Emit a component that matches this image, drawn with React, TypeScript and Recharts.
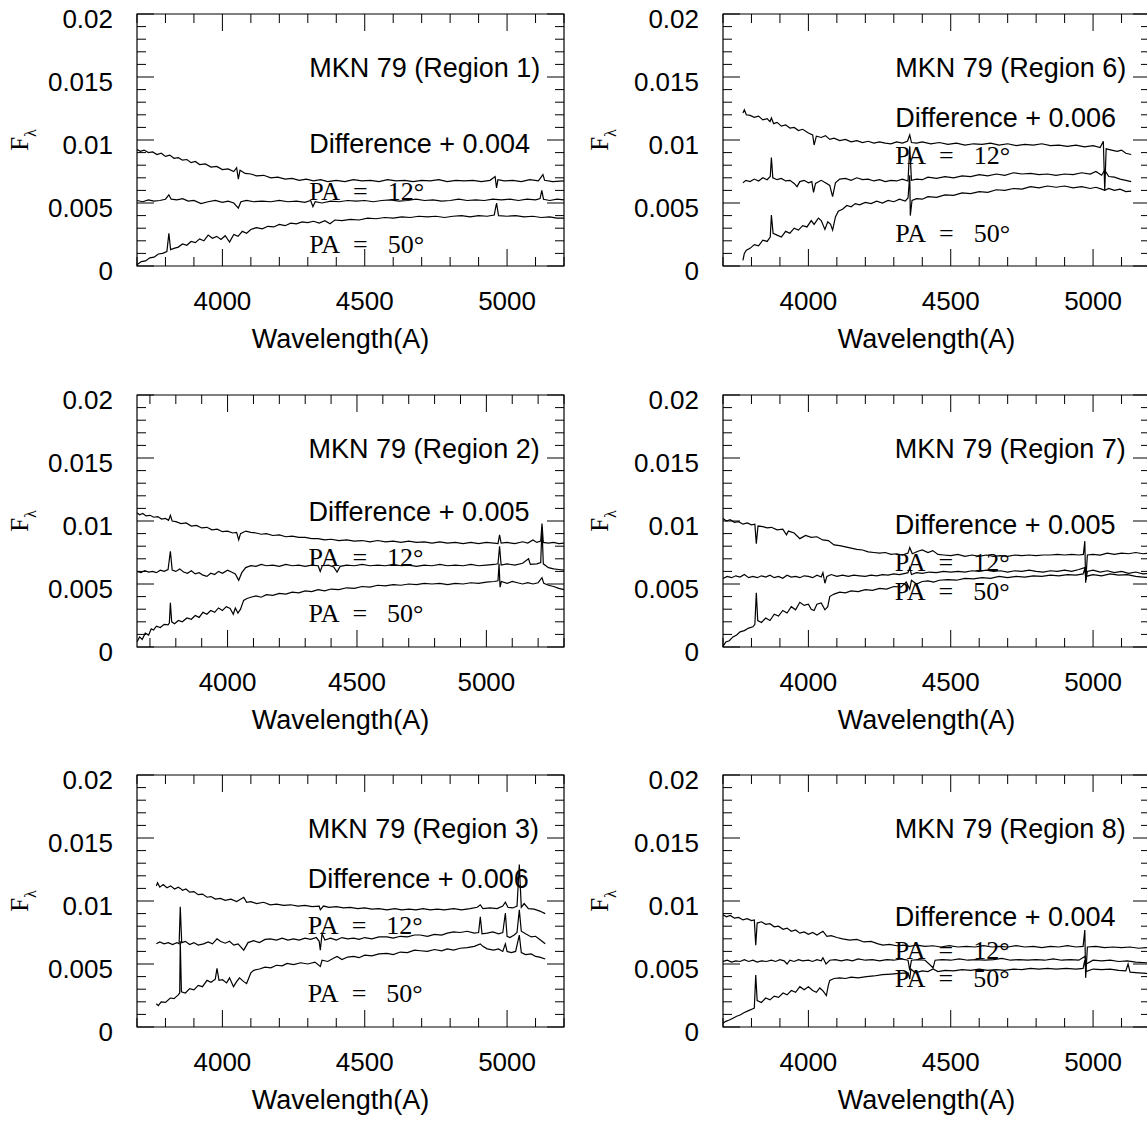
import React from "react";
import { LineChart, Line, XAxis, YAxis, ReferenceArea, ReferenceDot } from "recharts";

// wavelength (A), flux in units of 1e-3
type Pt = [number, number];

const r1Diff: Pt[] = [
  [3700, 9.25], [3712, 9.1], [3725, 9.2], [3740, 9.0], [3755, 9.05], [3770, 8.85], [3785, 8.95], [3800, 8.7],
  [3815, 8.8], [3830, 8.55], [3845, 8.6], [3860, 8.4], [3875, 8.45], [3890, 8.2], [3905, 8.3], [3920, 8.05],
  [3940, 8.1], [3960, 7.85], [3980, 7.9], [4000, 7.65], [4020, 7.7], [4040, 7.5], [4050, 7.8], [4056, 6.9],
  [4062, 7.6], [4080, 7.35], [4100, 7.3], [4120, 7.15], [4145, 7.2], [4170, 7.0], [4195, 7.05], [4220, 6.9],
  [4245, 6.95], [4270, 6.8], [4295, 6.9], [4320, 6.75], [4345, 6.85], [4370, 6.7], [4400, 6.8], [4430, 6.7],
  [4460, 6.85], [4490, 6.75], [4520, 6.8], [4550, 6.7], [4580, 6.85], [4610, 6.75], [4640, 6.8], [4670, 6.7],
  [4700, 6.8], [4730, 6.75], [4760, 6.85], [4790, 6.7], [4820, 6.8], [4850, 6.75], [4880, 6.8], [4910, 6.7],
  [4940, 6.8], [4958, 7.1], [4963, 6.2], [4968, 6.85], [4990, 6.75], [5020, 6.8], [5050, 6.7], [5080, 6.85],
  [5110, 6.75], [5126, 7.25], [5132, 6.8], [5160, 6.7], [5200, 6.75],
];
const r1Pa12: Pt[] = [
  [3700, 5.2], [3720, 5.1], [3740, 5.25], [3760, 5.15], [3780, 5.2], [3800, 5.3], [3812, 5.65], [3820, 5.3],
  [3840, 5.25], [3860, 5.35], [3880, 5.15], [3900, 5.2], [3925, 4.95], [3950, 5.1], [3975, 5.2], [4000, 5.05],
  [4020, 5.15], [4040, 5.0], [4056, 4.6], [4065, 5.1], [4085, 5.2], [4110, 5.1], [4140, 5.15], [4170, 5.1],
  [4200, 5.2], [4230, 5.1], [4260, 5.15], [4290, 5.05], [4310, 5.2], [4318, 4.7], [4326, 5.1], [4350, 5.0],
  [4380, 5.15], [4410, 5.1], [4440, 5.2], [4470, 5.15], [4500, 5.2], [4530, 5.1], [4560, 5.2], [4590, 5.25],
  [4620, 5.15], [4650, 5.2], [4680, 5.3], [4710, 5.2], [4740, 5.25], [4770, 5.15], [4800, 5.2], [4830, 5.3],
  [4860, 5.2], [4890, 5.25], [4920, 5.2], [4950, 5.3], [4980, 5.25], [5010, 5.3], [5040, 5.2], [5070, 5.3],
  [5100, 5.25], [5116, 5.35], [5122, 6.0], [5128, 5.3], [5150, 5.2], [5175, 5.3], [5200, 5.25],
];
const r1Pa50: Pt[] = [
  [3700, 0.1], [3715, 0.35], [3730, 0.4], [3745, 0.65], [3760, 0.7], [3775, 0.95], [3790, 1.0], [3805, 1.15],
  [3812, 2.6], [3818, 1.3], [3830, 1.4], [3845, 1.5], [3860, 1.75], [3875, 1.65], [3890, 1.95], [3905, 1.85],
  [3920, 2.15], [3935, 2.0], [3950, 2.45], [3965, 2.2], [3980, 2.35], [3995, 2.1], [4010, 2.4], [4025, 1.9],
  [4040, 2.5], [4055, 2.35], [4070, 2.75], [4085, 2.6], [4100, 2.9], [4120, 3.05], [4140, 2.95], [4160, 3.15],
  [4180, 3.1], [4200, 3.3], [4220, 3.2], [4240, 3.4], [4260, 3.35], [4280, 3.5], [4300, 3.45], [4320, 3.55],
  [4340, 3.4], [4360, 3.6], [4378, 3.35], [4395, 3.65], [4420, 3.6], [4450, 3.7], [4480, 3.65], [4510, 3.8],
  [4540, 3.75], [4570, 3.85], [4600, 3.8], [4630, 3.9], [4660, 3.85], [4690, 3.95], [4720, 3.9], [4750, 3.95],
  [4780, 3.85], [4810, 3.95], [4840, 4.0], [4870, 3.9], [4900, 4.0], [4930, 3.95], [4955, 4.05], [4963, 5.0],
  [4970, 4.0], [5000, 3.95], [5030, 4.0], [5060, 3.9], [5090, 3.95], [5120, 3.85], [5150, 3.9], [5175, 3.8],
  [5200, 3.8],
];

const r2Diff: Pt[] = [
  [3650, 10.65], [3660, 10.5], [3672, 10.6], [3685, 10.4], [3700, 10.45], [3715, 10.3], [3730, 10.35], [3745, 10.15],
  [3760, 10.2], [3772, 10.05], [3779, 10.45], [3786, 10.0], [3800, 9.95], [3820, 9.8], [3840, 9.85], [3860, 9.6],
  [3880, 9.65], [3900, 9.45], [3920, 9.5], [3940, 9.3], [3960, 9.35], [3980, 9.15], [4000, 9.2], [4020, 9.05],
  [4035, 9.1], [4043, 8.5], [4050, 9.0], [4070, 9.2], [4090, 9.1], [4110, 9.05], [4130, 8.95], [4150, 9.0],
  [4175, 8.85], [4200, 8.9], [4225, 8.75], [4250, 8.8], [4275, 8.7], [4300, 8.7], [4325, 8.6], [4350, 8.6],
  [4375, 8.5], [4400, 8.55], [4430, 8.45], [4460, 8.5], [4490, 8.4], [4520, 8.45], [4550, 8.35], [4580, 8.45],
  [4610, 8.35], [4640, 8.4], [4670, 8.3], [4700, 8.4], [4730, 8.3], [4760, 8.35], [4790, 8.25], [4820, 8.35],
  [4850, 8.25], [4880, 8.3], [4910, 8.2], [4940, 8.3], [4970, 8.2], [5000, 8.3], [5030, 8.25], [5045, 8.2],
  [5051, 8.9], [5057, 8.25], [5080, 8.3], [5110, 8.2], [5140, 8.35], [5160, 8.25], [5180, 8.5], [5195, 8.3],
  [5210, 8.4], [5215, 9.8], [5220, 8.3], [5240, 8.25], [5260, 8.3], [5280, 8.2], [5300, 8.25],
];
const r2Pa12: Pt[] = [
  [3650, 6.0], [3665, 5.9], [3680, 6.05], [3695, 5.95], [3710, 6.0], [3725, 5.9], [3740, 6.1], [3755, 6.0],
  [3770, 6.15], [3779, 7.6], [3786, 6.1], [3800, 6.0], [3815, 6.2], [3830, 5.95], [3845, 5.85], [3860, 6.05],
  [3875, 5.8], [3890, 5.9], [3905, 5.7], [3920, 5.6], [3935, 5.85], [3950, 5.75], [3965, 6.0], [3980, 5.85],
  [4000, 6.1], [4015, 5.95], [4030, 5.8], [4043, 5.3], [4055, 5.9], [4070, 6.3], [4090, 6.45], [4110, 6.4],
  [4130, 6.55], [4150, 6.45], [4175, 6.5], [4200, 6.4], [4225, 6.55], [4250, 6.45], [4275, 6.5], [4300, 6.4],
  [4325, 6.5], [4350, 6.45], [4358, 6.0], [4366, 6.45], [4390, 6.5], [4410, 6.35], [4423, 5.95], [4435, 6.4],
  [4460, 6.5], [4490, 6.45], [4520, 6.55], [4550, 6.45], [4580, 6.5], [4610, 6.45], [4640, 6.55], [4670, 6.45],
  [4700, 6.5], [4730, 6.4], [4760, 6.5], [4790, 6.45], [4820, 6.55], [4850, 6.45], [4880, 6.5], [4910, 6.45],
  [4940, 6.55], [4970, 6.45], [5000, 6.5], [5030, 6.55], [5045, 6.6], [5051, 8.0], [5057, 6.5], [5080, 6.6],
  [5110, 6.5], [5140, 6.65], [5163, 7.0], [5170, 6.55], [5195, 6.6], [5210, 6.7], [5215, 9.5], [5220, 6.6],
  [5240, 6.3], [5260, 6.2], [5280, 6.15], [5300, 6.1],
];
const r2Pa50: Pt[] = [
  [3650, 0.4], [3660, 0.8], [3670, 0.6], [3682, 1.1], [3695, 0.95], [3705, 1.45], [3714, 1.35], [3725, 1.65],
  [3740, 1.55], [3755, 1.8], [3770, 1.75], [3775, 1.9], [3779, 3.5], [3784, 2.0], [3795, 1.85], [3810, 2.1],
  [3825, 2.0], [3843, 2.3], [3860, 2.2], [3875, 2.5], [3890, 2.35], [3905, 2.75], [3920, 2.6], [3935, 2.9],
  [3950, 2.75], [3965, 3.1], [3980, 2.9], [3995, 3.2], [4010, 3.05], [4022, 2.6], [4030, 3.1], [4040, 2.7],
  [4050, 3.0], [4062, 3.7], [4075, 3.85], [4090, 3.95], [4110, 4.05], [4130, 3.95], [4150, 4.15], [4175, 4.1],
  [4200, 4.25], [4225, 4.2], [4250, 4.35], [4275, 4.3], [4300, 4.45], [4325, 4.4], [4350, 4.55], [4375, 4.45],
  [4400, 4.6], [4430, 4.55], [4460, 4.7], [4490, 4.65], [4520, 4.8], [4550, 4.75], [4580, 4.9], [4610, 4.85],
  [4640, 4.95], [4670, 4.9], [4700, 5.0], [4730, 4.95], [4760, 5.05], [4790, 5.0], [4820, 5.05], [4850, 4.95],
  [4880, 5.05], [4910, 5.0], [4940, 5.1], [4970, 5.05], [5000, 5.15], [5030, 5.2], [5045, 5.25], [5049, 6.6],
  [5053, 4.75], [5058, 5.2], [5080, 5.05], [5100, 5.2], [5120, 5.1], [5140, 5.0], [5160, 5.1], [5180, 5.0],
  [5200, 5.1], [5215, 5.5], [5222, 5.05], [5240, 4.9], [5260, 4.8], [5280, 4.65], [5300, 4.55],
];

const r3Diff: Pt[] = [
  [3768, 11.2], [3772, 11.45], [3780, 11.1], [3792, 11.3], [3805, 11.05], [3818, 11.2], [3832, 10.95], [3845, 11.1],
  [3852, 11.0], [3860, 10.85], [3872, 10.95], [3885, 10.7], [3900, 10.75], [3915, 10.5], [3930, 10.55], [3946, 10.3],
  [3960, 10.35], [3975, 10.15], [3993, 10.2], [4010, 10.05], [4030, 10.15], [4050, 9.95], [4075, 10.3], [4085, 9.9],
  [4100, 9.95], [4120, 9.8], [4145, 9.9], [4168, 9.7], [4190, 9.75], [4215, 9.65], [4240, 9.7], [4265, 9.6],
  [4290, 9.65], [4315, 9.55], [4340, 9.6], [4344, 9.3], [4355, 9.6], [4375, 9.5], [4400, 9.55], [4425, 9.45],
  [4450, 9.5], [4475, 9.4], [4500, 9.45], [4525, 9.35], [4550, 9.4], [4578, 9.3], [4605, 9.4], [4630, 9.3],
  [4655, 9.35], [4680, 9.3], [4705, 9.4], [4730, 9.3], [4755, 9.35], [4780, 9.3], [4812, 9.4], [4840, 9.3],
  [4870, 9.4], [4895, 9.5], [4906, 9.7], [4915, 9.4], [4940, 9.45], [4965, 9.4], [4985, 9.6], [4994, 9.9],
  [5003, 9.5], [5020, 9.45], [5035, 9.6], [5043, 12.9], [5050, 9.5], [5060, 9.8], [5075, 9.4], [5095, 9.35],
  [5115, 9.2], [5134, 9.0],
];
const r3Pa12: Pt[] = [
  [3768, 6.6], [3780, 6.75], [3795, 6.6], [3810, 6.7], [3825, 6.55], [3840, 6.7], [3848, 6.6], [3852, 9.55],
  [3857, 6.7], [3870, 6.8], [3885, 6.55], [3900, 6.7], [3915, 6.5], [3934, 6.6], [3950, 6.75], [3965, 6.6],
  [3981, 7.0], [3993, 6.8], [4010, 6.65], [4025, 6.8], [4040, 6.5], [4055, 6.6], [4075, 6.1], [4090, 6.7],
  [4110, 6.85], [4130, 6.7], [4150, 6.95], [4168, 7.0], [4190, 6.9], [4210, 7.05], [4230, 6.9], [4250, 7.0],
  [4270, 6.9], [4290, 7.05], [4310, 6.95], [4330, 7.1], [4340, 6.8], [4344, 6.1], [4350, 7.4], [4360, 6.9],
  [4380, 7.05], [4400, 6.9], [4420, 7.1], [4440, 7.0], [4461, 7.05], [4480, 6.95], [4500, 7.1], [4525, 7.0],
  [4550, 7.15], [4578, 7.15], [4600, 7.05], [4625, 7.2], [4650, 7.15], [4675, 7.3], [4695, 7.3], [4720, 7.2],
  [4745, 7.35], [4770, 7.3], [4790, 7.45], [4812, 7.55], [4835, 7.5], [4860, 7.6], [4885, 7.45], [4900, 7.5],
  [4906, 8.75], [4912, 7.4], [4930, 7.45], [4950, 7.55], [4970, 7.4], [4985, 7.5], [4994, 9.05], [5000, 7.2],
  [5010, 7.1], [5025, 7.3], [5035, 7.5], [5043, 9.3], [5050, 7.6], [5065, 7.4], [5085, 7.15], [5100, 7.2],
  [5115, 6.95], [5134, 6.6],
];
const r3Pa50: Pt[] = [
  [3768, 1.85], [3775, 1.7], [3785, 2.0], [3800, 1.95], [3817, 2.3], [3830, 2.25], [3845, 2.55], [3850, 2.7],
  [3852, 6.8], [3856, 2.8], [3870, 2.7], [3885, 3.05], [3900, 2.95], [3915, 3.3], [3930, 3.2], [3946, 3.7],
  [3960, 3.55], [3975, 3.8], [3981, 4.65], [3988, 3.7], [4000, 3.75], [4015, 3.5], [4025, 3.9], [4039, 3.2],
  [4050, 3.6], [4060, 3.9], [4075, 3.6], [4085, 3.45], [4100, 4.3], [4110, 4.5], [4130, 4.6], [4150, 4.75],
  [4170, 4.7], [4190, 4.9], [4210, 4.85], [4227, 5.05], [4250, 4.95], [4275, 5.1], [4300, 5.0], [4325, 5.15],
  [4344, 4.8], [4350, 5.3], [4370, 5.2], [4390, 5.45], [4403, 5.6], [4420, 5.35], [4440, 5.55], [4461, 5.6],
  [4480, 5.5], [4500, 5.7], [4525, 5.65], [4550, 5.8], [4578, 5.85], [4600, 5.75], [4625, 5.95], [4650, 5.9],
  [4675, 6.1], [4695, 6.05], [4720, 6.0], [4745, 6.15], [4770, 6.05], [4790, 6.2], [4812, 6.1], [4835, 6.25],
  [4860, 6.3], [4885, 6.4], [4906, 6.6], [4915, 6.4], [4930, 6.2], [4953, 6.1], [4970, 6.2], [4985, 6.0],
  [4994, 6.6], [5000, 6.0], [5015, 5.9], [5030, 6.0], [5043, 7.3], [5050, 5.9], [5065, 5.75], [5085, 5.8],
  [5100, 5.6], [5115, 5.55], [5134, 5.4],
];

const r6Diff: Pt[] = [
  [3770, 12.15], [3775, 12.4], [3782, 12.0], [3795, 11.95], [3810, 11.8], [3825, 11.9], [3840, 11.6], [3855, 11.7],
  [3865, 11.45], [3870, 11.75], [3878, 11.3], [3890, 11.4], [3905, 11.1], [3920, 11.2], [3935, 10.95], [3950, 11.0],
  [3965, 10.75], [3980, 10.85], [4000, 10.55], [4015, 10.4], [4020, 9.6], [4028, 10.3], [4045, 10.2], [4060, 10.35],
  [4075, 10.05], [4090, 10.15], [4110, 9.95], [4130, 10.05], [4150, 9.85], [4170, 9.95], [4190, 9.8], [4210, 9.9],
  [4230, 9.75], [4250, 9.85], [4270, 9.75], [4290, 9.7], [4310, 9.85], [4330, 9.75], [4348, 9.9], [4356, 10.4],
  [4362, 9.8], [4380, 9.75], [4400, 9.85], [4430, 9.7], [4460, 9.8], [4490, 9.65], [4520, 9.75], [4550, 9.6],
  [4580, 9.7], [4610, 9.65], [4640, 9.75], [4670, 9.6], [4700, 9.7], [4730, 9.55], [4760, 9.65], [4790, 9.6],
  [4820, 9.7], [4850, 9.55], [4880, 9.6], [4910, 9.5], [4940, 9.6], [4970, 9.45], [5000, 9.55], [5025, 9.4],
  [5036, 9.9], [5041, 6.0], [5046, 9.3], [5065, 9.2], [5085, 9.1], [5100, 9.2], [5115, 8.95], [5134, 8.85],
];
const r6Pa12: Pt[] = [
  [3770, 6.6], [3780, 6.8], [3795, 6.7], [3810, 6.9], [3825, 6.75], [3840, 7.0], [3855, 6.85], [3866, 7.1],
  [3870, 8.6], [3875, 7.0], [3890, 6.85], [3905, 6.95], [3920, 6.75], [3935, 6.8], [3950, 6.55], [3960, 6.3],
  [3970, 6.7], [3985, 6.8], [4000, 6.6], [4012, 6.7], [4018, 5.85], [4025, 6.55], [4045, 6.8], [4060, 6.6],
  [4075, 6.4], [4085, 5.5], [4095, 6.6], [4110, 6.9], [4130, 6.95], [4150, 6.8], [4170, 7.0], [4190, 6.85],
  [4210, 6.9], [4230, 6.75], [4250, 6.85], [4270, 6.7], [4290, 6.8], [4310, 6.75], [4330, 6.9], [4350, 6.75],
  [4356, 9.5], [4362, 6.8], [4380, 6.9], [4400, 6.85], [4420, 7.05], [4450, 6.95], [4480, 7.1], [4510, 7.0],
  [4540, 7.15], [4570, 7.1], [4600, 7.25], [4630, 7.15], [4660, 7.3], [4690, 7.2], [4720, 7.4], [4750, 7.3],
  [4780, 7.35], [4810, 7.25], [4840, 7.3], [4870, 7.2], [4900, 7.3], [4930, 7.25], [4960, 7.4], [4990, 7.3],
  [5010, 7.5], [5030, 7.2], [5041, 7.6], [5055, 7.1], [5075, 7.05], [5095, 6.9], [5115, 6.8], [5134, 6.7],
];
const r6Pa50: Pt[] = [
  [3770, 0.45], [3775, 1.0], [3782, 1.25], [3795, 1.4], [3810, 1.7], [3825, 1.6], [3840, 2.05], [3855, 1.95],
  [3866, 2.3], [3870, 4.05], [3876, 2.6], [3890, 2.45], [3905, 2.3], [3920, 2.75], [3935, 2.6], [3950, 3.0],
  [3965, 2.85], [3980, 3.2], [3995, 3.1], [4010, 3.6], [4020, 3.3], [4035, 3.8], [4045, 3.6], [4058, 2.9],
  [4068, 3.5], [4078, 3.3], [4085, 2.85], [4095, 3.9], [4105, 4.35], [4120, 4.5], [4135, 4.8], [4150, 4.7],
  [4165, 4.95], [4180, 4.85], [4200, 5.05], [4220, 4.95], [4240, 5.15], [4260, 5.0], [4280, 5.2], [4300, 5.1],
  [4320, 5.3], [4340, 5.15], [4350, 5.4], [4356, 7.2], [4358, 4.0], [4364, 5.2], [4380, 5.35], [4400, 5.3],
  [4420, 5.5], [4450, 5.45], [4480, 5.65], [4510, 5.6], [4540, 5.8], [4570, 5.75], [4600, 5.9], [4630, 5.85],
  [4660, 6.05], [4690, 6.0], [4720, 6.15], [4750, 6.1], [4780, 6.3], [4810, 6.2], [4840, 6.35], [4870, 6.25],
  [4900, 6.35], [4930, 6.2], [4960, 6.3], [4990, 6.15], [5010, 6.25], [5030, 6.1], [5041, 6.0], [5055, 6.15],
  [5075, 6.0], [5095, 6.1], [5115, 5.9], [5134, 5.95],
];

const r7Diff: Pt[] = [
  [3700, 10.2], [3712, 10.0], [3725, 10.1], [3740, 9.9], [3755, 9.95], [3770, 9.75], [3785, 9.85], [3800, 9.7],
  [3812, 9.75], [3817, 8.2], [3823, 9.6], [3840, 9.55], [3855, 9.45], [3870, 9.5], [3890, 9.3], [3910, 9.35],
  [3923, 8.9], [3930, 9.2], [3950, 9.05], [3970, 8.6], [3990, 8.85], [4010, 8.7], [4030, 8.75], [4050, 8.5],
  [4070, 8.45], [4090, 8.1], [4110, 8.05], [4130, 7.95], [4150, 7.85], [4170, 7.75], [4190, 7.7], [4210, 7.55],
  [4230, 7.5], [4250, 7.45], [4270, 7.5], [4290, 7.35], [4310, 7.4], [4330, 7.3], [4350, 7.45], [4356, 7.9],
  [4365, 7.4], [4385, 7.6], [4400, 7.7], [4420, 7.5], [4437, 7.65], [4455, 7.35], [4475, 7.3], [4500, 7.25],
  [4525, 7.35], [4550, 7.2], [4575, 7.3], [4600, 7.2], [4625, 7.3], [4650, 7.2], [4675, 7.25], [4700, 7.2],
  [4725, 7.3], [4750, 7.25], [4775, 7.3], [4800, 7.25], [4825, 7.3], [4850, 7.3], [4875, 7.35], [4900, 7.3],
  [4925, 7.35], [4950, 7.3], [4966, 7.35], [4971, 8.4], [4974, 5.1], [4980, 7.3], [5000, 7.35], [5025, 7.3],
  [5050, 7.45], [5075, 7.35], [5100, 7.45], [5125, 7.4], [5150, 7.5], [5175, 7.4], [5200, 7.45],
];
const r7Pa12: Pt[] = [
  [3700, 5.45], [3715, 5.6], [3730, 5.5], [3745, 5.65], [3760, 5.55], [3775, 5.75], [3790, 5.5], [3805, 5.6],
  [3820, 5.5], [3835, 5.65], [3850, 5.55], [3865, 5.7], [3880, 5.5], [3895, 5.6], [3910, 5.45], [3925, 5.7],
  [3940, 5.55], [3955, 5.6], [3970, 5.5], [3985, 5.65], [4000, 5.6], [4015, 5.5], [4030, 5.7], [4045, 5.55],
  [4051, 5.9], [4058, 5.06], [4065, 5.6], [4080, 5.75], [4100, 5.6], [4120, 5.7], [4140, 5.6], [4160, 5.7],
  [4180, 5.65], [4200, 5.6], [4220, 5.7], [4240, 5.65], [4260, 5.75], [4280, 5.7], [4300, 5.8], [4320, 5.75],
  [4340, 5.85], [4350, 5.9], [4356, 6.3], [4362, 5.75], [4380, 5.9], [4400, 5.85], [4425, 5.95], [4450, 5.9],
  [4475, 6.0], [4500, 5.95], [4525, 6.0], [4550, 5.95], [4575, 6.05], [4600, 6.0], [4625, 6.1], [4650, 6.0],
  [4675, 6.05], [4700, 5.95], [4725, 6.05], [4750, 6.0], [4775, 6.1], [4800, 6.0], [4825, 5.95], [4850, 6.05],
  [4875, 6.0], [4900, 6.1], [4925, 6.0], [4950, 6.15], [4971, 6.3], [4975, 5.3], [4980, 6.0], [5000, 6.1],
  [5025, 5.95], [5050, 6.05], [5075, 5.9], [5100, 6.0], [5125, 5.85], [5150, 5.95], [5175, 5.8], [5200, 5.85],
];
const r7Pa50: Pt[] = [
  [3700, 0.05], [3710, 0.4], [3722, 0.5], [3735, 0.8], [3748, 0.95], [3760, 1.2], [3775, 1.3], [3790, 1.5],
  [3805, 1.6], [3812, 1.8], [3817, 4.3], [3822, 2.1], [3835, 1.95], [3850, 2.3], [3865, 2.1], [3880, 2.6],
  [3895, 2.45], [3910, 2.9], [3925, 2.7], [3940, 3.2], [3955, 2.95], [3970, 3.55], [3985, 3.3], [4000, 3.4],
  [4010, 3.0], [4020, 2.9], [4030, 3.4], [4045, 3.5], [4058, 2.95], [4068, 3.2], [4075, 4.0], [4090, 4.2],
  [4110, 4.35], [4130, 4.3], [4150, 4.45], [4175, 4.4], [4200, 4.55], [4225, 4.5], [4250, 4.65], [4275, 4.6],
  [4300, 4.8], [4325, 4.75], [4344, 5.15], [4356, 4.6], [4362, 5.3], [4380, 5.0], [4400, 5.2], [4420, 5.25],
  [4440, 5.15], [4460, 5.3], [4490, 5.35], [4520, 5.3], [4550, 5.45], [4580, 5.4], [4610, 5.5], [4640, 5.45],
  [4670, 5.6], [4700, 5.5], [4730, 5.6], [4760, 5.55], [4790, 5.65], [4820, 5.6], [4850, 5.7], [4880, 5.65],
  [4910, 5.75], [4940, 5.7], [4965, 5.8], [4971, 6.2], [4975, 5.6], [5000, 5.75], [5030, 5.65], [5060, 5.8],
  [5090, 5.7], [5120, 5.75], [5150, 5.6], [5175, 5.55], [5200, 5.5],
];

const r8Diff: Pt[] = [
  [3700, 8.9], [3712, 8.75], [3725, 8.85], [3740, 8.65], [3755, 8.7], [3770, 8.5], [3785, 8.6], [3800, 8.45],
  [3810, 8.5], [3815, 6.5], [3820, 8.25], [3835, 8.35], [3850, 8.15], [3865, 8.2], [3880, 7.95], [3895, 8.0],
  [3911, 7.75], [3925, 7.85], [3940, 7.6], [3955, 7.7], [3970, 7.45], [3985, 7.55], [4000, 7.35], [4015, 7.5],
  [4030, 7.3], [4051, 7.6], [4065, 7.2], [4080, 7.25], [4100, 7.1], [4120, 7.0], [4145, 6.9], [4170, 6.95],
  [4195, 6.75], [4220, 6.8], [4245, 6.6], [4262, 6.5], [4285, 6.55], [4310, 6.45], [4335, 6.5], [4356, 6.4],
  [4380, 6.5], [4410, 6.4], [4438, 6.45], [4465, 6.35], [4495, 6.45], [4525, 6.35], [4555, 6.4], [4585, 6.35],
  [4615, 6.45], [4645, 6.35], [4672, 6.4], [4700, 6.35], [4730, 6.45], [4760, 6.35], [4790, 6.4], [4820, 6.3],
  [4850, 6.4], [4880, 6.35], [4910, 6.45], [4940, 6.35], [4965, 6.4], [4971, 7.7], [4974, 3.9], [4980, 6.35],
  [5010, 6.4], [5040, 6.3], [5070, 6.35], [5100, 6.3], [5130, 6.35], [5160, 6.25], [5187, 6.3], [5200, 6.25],
];
const r8Pa12: Pt[] = [
  [3700, 5.2], [3715, 5.3], [3730, 5.15], [3745, 5.25], [3760, 5.2], [3775, 5.35], [3790, 5.2], [3805, 5.3],
  [3820, 5.15], [3835, 5.25], [3852, 5.2], [3870, 5.3], [3885, 5.2], [3900, 5.35], [3915, 5.25], [3925, 5.0],
  [3935, 5.3], [3950, 5.2], [3965, 5.35], [3980, 5.25], [4000, 5.3], [4015, 5.2], [4030, 5.35], [4045, 5.25],
  [4051, 5.5], [4062, 5.0], [4075, 5.3], [4095, 5.35], [4115, 5.25], [4135, 5.35], [4155, 5.25], [4175, 5.4],
  [4200, 5.3], [4225, 5.35], [4250, 5.25], [4275, 5.35], [4300, 5.3], [4325, 5.4], [4350, 5.3], [4356, 4.5],
  [4362, 5.3], [4385, 5.35], [4410, 5.3], [4438, 4.7], [4445, 5.3], [4470, 5.35], [4500, 5.3], [4530, 5.4],
  [4560, 5.3], [4590, 5.35], [4620, 5.3], [4650, 5.35], [4680, 5.45], [4710, 5.3], [4740, 5.35], [4770, 5.3],
  [4800, 5.35], [4830, 5.3], [4860, 5.4], [4890, 5.3], [4920, 5.35], [4950, 5.3], [4971, 5.6], [4976, 5.0],
  [5000, 5.3], [5030, 5.25], [5060, 5.3], [5090, 5.2], [5120, 5.25], [5150, 5.15], [5187, 5.1], [5200, 5.05],
];
const r8Pa50: Pt[] = [
  [3700, 0.3], [3710, 0.45], [3722, 0.55], [3735, 0.7], [3748, 0.85], [3760, 0.95], [3775, 1.15], [3790, 1.3],
  [3805, 1.45], [3810, 1.5], [3815, 4.13], [3820, 2.1], [3835, 1.95], [3850, 2.3], [3865, 2.15], [3880, 2.45],
  [3895, 2.35], [3911, 2.7], [3925, 2.55], [3940, 2.9], [3955, 2.75], [3970, 3.2], [3985, 2.95], [4000, 3.2],
  [4015, 2.9], [4028, 2.75], [4040, 3.1], [4052, 2.85], [4063, 2.5], [4070, 3.3], [4075, 3.7], [4090, 3.85],
  [4110, 3.9], [4130, 3.85], [4150, 3.95], [4175, 3.9], [4204, 4.0], [4230, 4.05], [4260, 4.15], [4290, 4.2],
  [4320, 4.25], [4350, 4.3], [4356, 3.8], [4360, 4.6], [4375, 4.3], [4400, 4.45], [4420, 4.4], [4438, 4.6],
  [4455, 4.4], [4480, 4.5], [4510, 4.45], [4540, 4.55], [4570, 4.5], [4600, 4.6], [4630, 4.5], [4660, 4.55],
  [4690, 4.5], [4720, 4.6], [4750, 4.55], [4780, 4.65], [4810, 4.6], [4840, 4.65], [4870, 4.6], [4906, 4.66],
  [4940, 4.6], [4965, 4.65], [4971, 5.3], [4975, 4.4], [5000, 4.6], [5030, 4.55], [5060, 4.6], [5090, 4.5],
  [5115, 4.45], [5123, 5.0], [5130, 4.35], [5160, 4.3], [5187, 4.25], [5200, 4.2],
];

// axis ticks
const fluxTicks = [0, 1, 2, 3, 4, 5, 6, 7, 8, 9, 10, 11, 12, 13, 14, 15, 16, 17, 18, 19, 20];
const waveTicksA = [3700, 3800, 3900, 4000, 4100, 4200, 4300, 4400, 4500, 4600, 4700, 4800, 4900, 5000, 5100, 5200];
const waveTicksB = [3700, 3800, 3900, 4000, 4100, 4200, 4300, 4400, 4500, 4600, 4700, 4800, 4900, 5000, 5100, 5200, 5300];

const PLOT_W = 427;
const PLOT_H = 252;
const CHART_W = 586;
const CHART_H = 380;
const ROW_TOP = [0, 381, 761];

const sans = '"Liberation Sans", Arial, Helvetica, sans-serif';
const serif = '"Liberation Serif", "Times New Roman", Times, serif';

const panels = [
  { region: 1, diffOffset: "0.004", col: 0, row: 0, domain: [3700, 5200], ticks: waveTicksA, textX: 4305,
    diff: r1Diff, pa12: r1Pa12, pa50: r1Pa50, diffY: 9, pa12Y: 5.2, pa50Y: 1 },
  { region: 2, diffOffset: "0.005", col: 0, row: 1, domain: [3650, 5300], ticks: waveTicksB, textX: 4313,
    diff: r2Diff, pa12: r2Pa12, pa50: r2Pa50, diffY: 10, pa12Y: 6.4, pa50Y: 2 },
  { region: 3, diffOffset: "0.006", col: 0, row: 2, domain: [3700, 5200], ticks: waveTicksA, textX: 4300,
    diff: r3Diff, pa12: r3Pa12, pa50: r3Pa50, diffY: 11, pa12Y: 7.4, pa50Y: 2 },
  { region: 6, diffOffset: "0.006", col: 1, row: 0, domain: [3700, 5200], ticks: waveTicksA, textX: 4305,
    diff: r6Diff, pa12: r6Pa12, pa50: r6Pa50, diffY: 11, pa12Y: 8.1, pa50Y: 1.9 },
  { region: 7, diffOffset: "0.005", col: 1, row: 1, domain: [3700, 5200], ticks: waveTicksA, textX: 4303,
    diff: r7Diff, pa12: r7Pa12, pa50: r7Pa50, diffY: 9, pa12Y: 6, pa50Y: 3.7 },
  { region: 8, diffOffset: "0.004", col: 1, row: 2, domain: [3700, 5200], ticks: waveTicksA, textX: 4303,
    diff: r8Diff, pa12: r8Pa12, pa50: r8Pa50, diffY: 8, pa12Y: 5.4, pa50Y: 3.2 },
];

const toPts = (a: Pt[]) => a.map(([w, f]) => ({ w, f }));

function fluxLabel(v: number) {
  return v === 0 ? "0" : String(v / 1000);
}

// inward ticks on bottom and top
function WaveTick(props: any) {
  const { x, y, payload } = props;
  const major = payload.value % 500 === 0;
  const len = major ? 17 : 9;
  return (
    <g>
      <line x1={x} x2={x} y1={y} y2={y - len} stroke="#000" strokeWidth={1} />
      <line x1={x} x2={x} y1={y - PLOT_H} y2={y - PLOT_H + len} stroke="#000" strokeWidth={1} />
      {major && (
        <text x={x} y={y + 44} textAnchor="middle" fontFamily={sans} fontSize={26} fill="#000">
          {payload.value}
        </text>
      )}
    </g>
  );
}

// inward ticks on left and right
function FluxTick(props: any) {
  const { x, y, payload } = props;
  const major = payload.value % 5 === 0;
  const len = major ? 17 : 9;
  return (
    <g>
      <line x1={x} x2={x + len} y1={y} y2={y} stroke="#000" strokeWidth={1} />
      <line x1={x + PLOT_W} x2={x + PLOT_W - len} y1={y} y2={y} stroke="#000" strokeWidth={1} />
      {major && (
        <text x={x - 24} y={y + 14} textAnchor="end" fontFamily={sans} fontSize={26} fill="#000">
          {fluxLabel(payload.value)}
        </text>
      )}
    </g>
  );
}

const sansText = (label: string, dx = 0, dy = 0, anchor = "start") => (p: any) => (
  <text x={p.cx + dx} y={p.cy + dy} textAnchor={anchor} fontFamily={sans} fontSize={27} fill="#000">
    {label}
  </text>
);

const paText = (angle: string) => (p: any) => (
  <text x={p.cx} y={p.cy} fontFamily={serif} fontSize={26} fill="#000">
    <tspan>PA</tspan>
    <tspan dx={13}>=</tspan>
    <tspan dx={20}>{angle}°</tspan>
  </text>
);

const fLabel = (dx: number) => (p: any) => (
  <text transform={`translate(${p.cx + dx}, ${p.cy}) rotate(-90)`} textAnchor="middle" fontFamily={serif} fontSize={25} fill="#000">
    F<tspan fontSize={16} dy={8}>λ</tspan>
  </text>
);

function SpectrumPanel({ p }: { p: any }) {
  const [x0, x1] = p.domain;
  const series = [p.diff, p.pa12, p.pa50];
  return (
    <div style={{ position: "absolute", left: p.col * CHART_W, top: ROW_TOP[p.row] }}>
      <LineChart width={CHART_W} height={CHART_H} margin={{ top: 14, right: 22, bottom: 14, left: 0 }}>
        <XAxis
          dataKey="w"
          type="number"
          domain={p.domain}
          ticks={p.ticks}
          interval={0}
          allowDataOverflow
          axisLine={false}
          tickLine={false}
          tickSize={0}
          tickMargin={0}
          height={100}
          tick={(t: any) => <WaveTick {...t} />}
        />
        <YAxis
          type="number"
          domain={[0, 20]}
          ticks={fluxTicks}
          interval={0}
          allowDataOverflow
          axisLine={false}
          tickLine={false}
          tickSize={0}
          tickMargin={0}
          width={137}
          tick={(t: any) => <FluxTick {...t} />}
        />
        {series.map((s, i) => (
          <Line
            key={i}
            data={toPts(s)}
            dataKey="f"
            type="linear"
            stroke="#000"
            strokeWidth={1.2}
            dot={false}
            activeDot={false}
            isAnimationActive={false}
          />
        ))}
        <ReferenceArea x1={x0} x2={x1} y1={0} y2={20} fill="none" stroke="#000" strokeWidth={1.2} ifOverflow="visible" />
        <ReferenceDot x={p.textX} y={15} ifOverflow="visible" shape={sansText(`MKN 79 (Region ${p.region})`)} />
        <ReferenceDot x={p.textX} y={p.diffY} ifOverflow="visible" shape={sansText(`Difference + ${p.diffOffset}`)} />
        <ReferenceDot x={p.textX} y={p.pa12Y} ifOverflow="visible" shape={paText("12")} />
        <ReferenceDot x={p.textX} y={p.pa50Y} ifOverflow="visible" shape={paText("50")} />
        <ReferenceDot x={(x0 + x1) / 2} y={0} ifOverflow="visible" shape={sansText("Wavelength(A)", -10, 82, "middle")} />
        <ReferenceDot x={x0} y={10} ifOverflow="visible" shape={fLabel(p.col === 0 ? -109 : -115)} />
      </LineChart>
    </div>
  );
}

export default function App() {
  return (
    <div
      style={{
        position: "absolute",
        left: 0,
        top: 0,
        width: 1147,
        height: 1121,
        overflow: "hidden",
        background: "#fff",
      }}
    >
      {panels.map((p) => (
        <SpectrumPanel key={p.region} p={p} />
      ))}
    </div>
  );
}
